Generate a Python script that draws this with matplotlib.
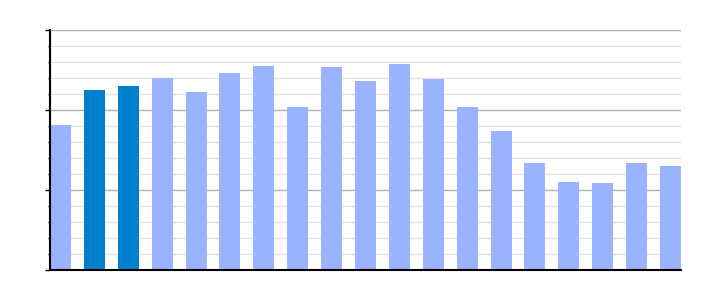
import matplotlib
matplotlib.use("Agg")
import matplotlib.pyplot as plt
from matplotlib.ticker import MultipleLocator, NullFormatter

# bar heights (units: 1 major grid step)
values = [1.8125, 2.25, 2.30, 2.40, 2.225, 2.4625, 2.55, 2.0375, 2.5375, 2.3625,
          2.575, 2.3875, 2.0375, 1.7375, 1.3375, 1.10, 1.0875, 1.3375, 1.30]
highlighted = [1, 2]

light = "#99b3ff"
dark = "#007fcc"
colors = [dark if i in highlighted else light for i in range(len(values))]

fig = plt.figure(figsize=(7.1, 3.0), dpi=100)
ax = fig.add_axes([50 / 710, 30 / 300, 631 / 710, 240 / 300])
ax.set_axisbelow(True)

width = 0.62
ax.bar(range(len(values)), values, width=width, color=colors, zorder=3)
ax.set_xlim(-width / 2, len(values) - 1 + width / 2)
ax.set_ylim(0, 3)

ax.yaxis.set_major_locator(MultipleLocator(1))
ax.yaxis.set_minor_locator(MultipleLocator(0.2))
ax.yaxis.set_major_formatter(NullFormatter())
ax.grid(axis="y", which="minor", color="#e3e3e3", linewidth=1)
ax.grid(axis="y", which="major", color="#b0b0b0", linewidth=1)
ax.set_xticks([])
ax.tick_params(axis="y", which="major", length=3.6, width=1, color="black")
ax.tick_params(axis="y", which="minor", length=1.6, width=1, color="black")

for side in ("top", "right"):
    ax.spines[side].set_visible(False)
for side in ("left", "bottom"):
    ax.spines[side].set_color("black")
    ax.spines[side].set_linewidth(1.5)
    ax.spines[side].set_zorder(4)

fig.savefig("out.png", dpi=100)
